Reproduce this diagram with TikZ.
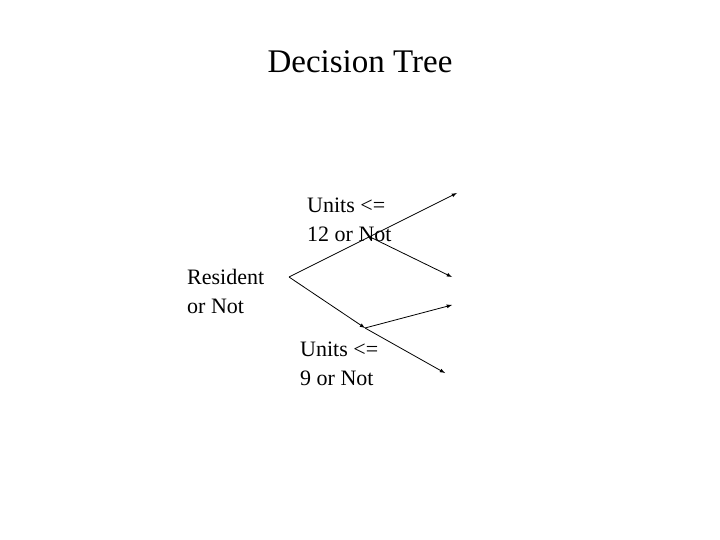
\documentclass[tikz,border=0pt]{standalone}
\usepackage{fontspec}
\setmainfont{Liberation Serif}
\usetikzlibrary{arrows,positioning}
\begin{document}
\begin{tikzpicture}[x=1pt,y=-1pt]
    \tikzset{
        label/.style = {align=left, inner sep=0pt, font=\fontsize{22}{29}\selectfont},
        line/.style = {draw=black, thick, -latex}
    }
    \useasboundingbox (0,0) rectangle (720,540);

    \node(title) at (360,62) {\fontsize{33}{38}\selectfont Decision Tree};

    \node[label, anchor=west](resident) at (187,291) {Resident\\or Not};
    \node[label, anchor=west](units12) at (307,220) {Units <=\\12 or Not};
    \node[label, anchor=west](units9) at (300,364) {Units <=\\9 or Not};

    \coordinate(root) at (289,277);
    \coordinate(split12) at (368,236);
    \coordinate(split9) at (365,328);
    \coordinate(end1) at (457,193);
    \coordinate(end2) at (452,277);
    \coordinate(end3) at (452,305);
    \coordinate(end4) at (445,373);

    \path [line] (root) -- (end1);
    \path [line] (split12) -- (end2);
    \path [line] (root) -- (split9);
    \path [line] (split9) -- (end3);
    \path [line] (split9) -- (end4);

\end{tikzpicture}
\end{document}
